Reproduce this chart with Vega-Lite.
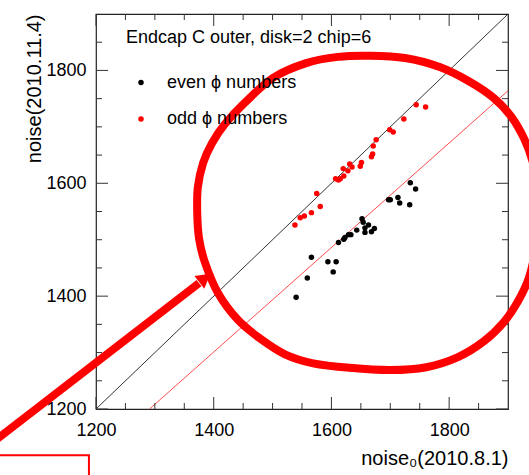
{
  "$schema": "https://vega.github.io/schema/vega-lite/v6.json",
  "width": 412,
  "height": 395,
  "autosize": "none",
  "padding": {"left": 96, "top": 14, "right": 21, "bottom": 66},
  "background": "white",
  "config": {
    "view": {"stroke": "#222", "strokeWidth": 1.2},
    "font": "Liberation Sans",
    "axis": {
      "grid": false,
      "domain": false,
      "ticks": false,
      "labelFont": "Liberation Sans",
      "labelFontSize": 18,
      "labelColor": "black",
      "titleFont": "Liberation Sans",
      "titleFontSize": 20,
      "titleFontWeight": "normal",
      "titleColor": "black",
      "labelFlush": false,
      "labelOverlap": false
    }
  },
  "datasets": {
    "diag": [{"x": 1200, "y": 1200}, {"x": 1900, "y": 1900}],
    "fit": [{"x": 1291, "y": 1200}, {"x": 1900, "y": 1764}],
    "majors": [{"v": 1200}, {"v": 1400}, {"v": 1600}, {"v": 1800}],
    "minors": [
      {"v": 1250}, {"v": 1300}, {"v": 1350}, {"v": 1450}, {"v": 1500}, {"v": 1550},
      {"v": 1650}, {"v": 1700}, {"v": 1750}, {"v": 1850}
    ],
    "points": [
      {"x": 1734, "y": 1601, "phi": "even ϕ numbers"},
      {"x": 1743, "y": 1590, "phi": "even ϕ numbers"},
      {"x": 1697, "y": 1571, "phi": "even ϕ numbers"},
      {"x": 1700, "y": 1571, "phi": "even ϕ numbers"},
      {"x": 1713, "y": 1575, "phi": "even ϕ numbers"},
      {"x": 1716, "y": 1565, "phi": "even ϕ numbers"},
      {"x": 1733, "y": 1562, "phi": "even ϕ numbers"},
      {"x": 1652, "y": 1537, "phi": "even ϕ numbers"},
      {"x": 1654, "y": 1531, "phi": "even ϕ numbers"},
      {"x": 1663, "y": 1526, "phi": "even ϕ numbers"},
      {"x": 1657, "y": 1521, "phi": "even ϕ numbers"},
      {"x": 1673, "y": 1520, "phi": "even ϕ numbers"},
      {"x": 1668, "y": 1514, "phi": "even ϕ numbers"},
      {"x": 1657, "y": 1513, "phi": "even ϕ numbers"},
      {"x": 1643, "y": 1517, "phi": "even ϕ numbers"},
      {"x": 1633, "y": 1509, "phi": "even ϕ numbers"},
      {"x": 1629, "y": 1509, "phi": "even ϕ numbers"},
      {"x": 1623, "y": 1504, "phi": "even ϕ numbers"},
      {"x": 1621, "y": 1501, "phi": "even ϕ numbers"},
      {"x": 1612, "y": 1495, "phi": "even ϕ numbers"},
      {"x": 1566, "y": 1469, "phi": "even ϕ numbers"},
      {"x": 1594, "y": 1461, "phi": "even ϕ numbers"},
      {"x": 1608, "y": 1461, "phi": "even ϕ numbers"},
      {"x": 1603, "y": 1443, "phi": "even ϕ numbers"},
      {"x": 1559, "y": 1432, "phi": "even ϕ numbers"},
      {"x": 1540, "y": 1398, "phi": "even ϕ numbers"},
      {"x": 1744, "y": 1739, "phi": "odd ϕ numbers"},
      {"x": 1760, "y": 1735, "phi": "odd ϕ numbers"},
      {"x": 1723, "y": 1714, "phi": "odd ϕ numbers"},
      {"x": 1699, "y": 1695, "phi": "odd ϕ numbers"},
      {"x": 1705, "y": 1691, "phi": "odd ϕ numbers"},
      {"x": 1676, "y": 1677, "phi": "odd ϕ numbers"},
      {"x": 1671, "y": 1666, "phi": "odd ϕ numbers"},
      {"x": 1670, "y": 1652, "phi": "odd ϕ numbers"},
      {"x": 1668, "y": 1647, "phi": "odd ϕ numbers"},
      {"x": 1651, "y": 1637, "phi": "odd ϕ numbers"},
      {"x": 1649, "y": 1630, "phi": "odd ϕ numbers"},
      {"x": 1631, "y": 1634, "phi": "odd ϕ numbers"},
      {"x": 1635, "y": 1629, "phi": "odd ϕ numbers"},
      {"x": 1628, "y": 1622, "phi": "odd ϕ numbers"},
      {"x": 1620, "y": 1626, "phi": "odd ϕ numbers"},
      {"x": 1621, "y": 1613, "phi": "odd ϕ numbers"},
      {"x": 1615, "y": 1608, "phi": "odd ϕ numbers"},
      {"x": 1612, "y": 1606, "phi": "odd ϕ numbers"},
      {"x": 1607, "y": 1608, "phi": "odd ϕ numbers"},
      {"x": 1575, "y": 1582, "phi": "odd ϕ numbers"},
      {"x": 1581, "y": 1559, "phi": "odd ϕ numbers"},
      {"x": 1566, "y": 1548, "phi": "odd ϕ numbers"},
      {"x": 1554, "y": 1542, "phi": "odd ϕ numbers"},
      {"x": 1547, "y": 1539, "phi": "odd ϕ numbers"},
      {"x": 1538, "y": 1526, "phi": "odd ϕ numbers"}
    ],
    "ellipse": [
      {"i": 1, "x": 1665, "y": 1826},
      {"i": 2, "x": 1725, "y": 1822},
      {"i": 3, "x": 1784, "y": 1806},
      {"i": 4, "x": 1835, "y": 1780},
      {"i": 5, "x": 1876, "y": 1751},
      {"i": 6, "x": 1905, "y": 1719},
      {"i": 7, "x": 1927, "y": 1680},
      {"i": 8, "x": 1942, "y": 1638},
      {"i": 9, "x": 1951, "y": 1592},
      {"i": 10, "x": 1953, "y": 1544},
      {"i": 11, "x": 1948, "y": 1491},
      {"i": 12, "x": 1936, "y": 1434},
      {"i": 13, "x": 1917, "y": 1391},
      {"i": 14, "x": 1893, "y": 1354},
      {"i": 15, "x": 1859, "y": 1320},
      {"i": 16, "x": 1815, "y": 1292},
      {"i": 17, "x": 1761, "y": 1274},
      {"i": 18, "x": 1700, "y": 1269},
      {"i": 19, "x": 1631, "y": 1273},
      {"i": 20, "x": 1569, "y": 1281},
      {"i": 21, "x": 1521, "y": 1297},
      {"i": 22, "x": 1480, "y": 1324},
      {"i": 23, "x": 1441, "y": 1358},
      {"i": 24, "x": 1407, "y": 1406},
      {"i": 25, "x": 1385, "y": 1460},
      {"i": 26, "x": 1375, "y": 1503},
      {"i": 27, "x": 1372, "y": 1547},
      {"i": 28, "x": 1373, "y": 1593},
      {"i": 29, "x": 1382, "y": 1636},
      {"i": 30, "x": 1397, "y": 1671},
      {"i": 31, "x": 1419, "y": 1705},
      {"i": 32, "x": 1452, "y": 1742},
      {"i": 33, "x": 1501, "y": 1787},
      {"i": 34, "x": 1557, "y": 1813},
      {"i": 35, "x": 1611, "y": 1824}
    ],
    "shaft": [{"x": 996, "y": 1118}, {"x": 1375, "y": 1423}],
    "head": [{"x": 1385, "y": 1432}],
    "box": [{"x": 1019, "x2": 1188, "y": 1118, "y2": 1040}]
  },
  "layer": [
    {
      "data": {"name": "diag"},
      "mark": {"type": "line", "color": "black", "strokeWidth": 0.8},
      "encoding": {
        "x": {
          "field": "x", "type": "quantitative",
          "scale": {"domain": [1200, 1900], "nice": false, "zero": false},
          "axis": {
            "orient": "bottom",
            "values": [1200, 1400, 1600, 1800],
            "format": "d",
            "labelPadding": 12,
            "title": "noise₀(2010.8.1)",
            "titleX": 412,
            "titleY": 55,
            "titleAlign": "right",
            "titleAnchor": "end",
            "titleBaseline": "alphabetic"
          }
        },
        "y": {
          "field": "y", "type": "quantitative",
          "scale": {"domain": [1200, 1900], "nice": false, "zero": false},
          "axis": {
            "orient": "left",
            "values": [1200, 1400, 1600, 1800],
            "format": "d",
            "labelPadding": 10,
            "title": "noise(2010.11.4)",
            "titleAngle": -90,
            "titleX": -56,
            "titleY": 0,
            "titleAlign": "right",
            "titleAnchor": "end",
            "titleBaseline": "alphabetic"
          }
        }
      }
    },
    {
      "data": {"name": "fit"},
      "mark": {"type": "line", "color": "#ff2020", "strokeWidth": 0.8},
      "encoding": {
        "x": {"field": "x", "type": "quantitative"},
        "y": {"field": "y", "type": "quantitative"}
      }
    },
    {
      "data": {"name": "majors"},
      "mark": {"type": "tick", "orient": "vertical", "color": "#333", "thickness": 1, "size": 12, "yOffset": -6, "opacity": 1},
      "encoding": {
        "x": {"field": "v", "type": "quantitative"},
        "y": {"datum": 1200, "type": "quantitative"}
      }
    },
    {
      "data": {"name": "minors"},
      "mark": {"type": "tick", "orient": "vertical", "color": "#333", "thickness": 1, "size": 6, "yOffset": -3, "opacity": 1},
      "encoding": {
        "x": {"field": "v", "type": "quantitative"},
        "y": {"datum": 1200, "type": "quantitative"}
      }
    },
    {
      "data": {"name": "majors"},
      "mark": {"type": "tick", "orient": "vertical", "color": "#333", "thickness": 1, "size": 12, "yOffset": 6, "opacity": 1},
      "encoding": {
        "x": {"field": "v", "type": "quantitative"},
        "y": {"datum": 1900, "type": "quantitative"}
      }
    },
    {
      "data": {"name": "minors"},
      "mark": {"type": "tick", "orient": "vertical", "color": "#333", "thickness": 1, "size": 6, "yOffset": 3, "opacity": 1},
      "encoding": {
        "x": {"field": "v", "type": "quantitative"},
        "y": {"datum": 1900, "type": "quantitative"}
      }
    },
    {
      "data": {"name": "majors"},
      "mark": {"type": "tick", "orient": "horizontal", "color": "#333", "thickness": 1, "size": 12, "xOffset": 6, "opacity": 1},
      "encoding": {
        "y": {"field": "v", "type": "quantitative"},
        "x": {"datum": 1200, "type": "quantitative"}
      }
    },
    {
      "data": {"name": "minors"},
      "mark": {"type": "tick", "orient": "horizontal", "color": "#333", "thickness": 1, "size": 6, "xOffset": 3, "opacity": 1},
      "encoding": {
        "y": {"field": "v", "type": "quantitative"},
        "x": {"datum": 1200, "type": "quantitative"}
      }
    },
    {
      "data": {"name": "majors"},
      "mark": {"type": "tick", "orient": "horizontal", "color": "#333", "thickness": 1, "size": 12, "xOffset": -6, "opacity": 1},
      "encoding": {
        "y": {"field": "v", "type": "quantitative"},
        "x": {"datum": 1900, "type": "quantitative"}
      }
    },
    {
      "data": {"name": "minors"},
      "mark": {"type": "tick", "orient": "horizontal", "color": "#333", "thickness": 1, "size": 6, "xOffset": -3, "opacity": 1},
      "encoding": {
        "y": {"field": "v", "type": "quantitative"},
        "x": {"datum": 1900, "type": "quantitative"}
      }
    },
    {
      "data": {"name": "points"},
      "mark": {"type": "point", "shape": "circle", "filled": true, "size": 30, "opacity": 1},
      "encoding": {
        "x": {"field": "x", "type": "quantitative"},
        "y": {"field": "y", "type": "quantitative"},
        "color": {
          "field": "phi", "type": "nominal",
          "scale": {"domain": ["even ϕ numbers", "odd ϕ numbers"], "range": ["black", "#ff0000"]},
          "legend": {
            "orient": "none",
            "legendX": 30,
            "legendY": 14.5,
            "title": "Endcap C outer, disk=2 chip=6",
            "titleFont": "Liberation Sans",
            "titleFontSize": 18,
            "titleFontWeight": "normal",
            "titleColor": "black",
            "titleLimit": 400,
            "titlePadding": 27,
            "labelFont": "Liberation Sans",
            "labelFontSize": 18,
            "labelColor": "black",
            "labelLimit": 300,
            "labelOffset": 17,
            "symbolOffset": 6,
            "symbolType": "circle",
            "symbolSize": 30,
            "symbolStrokeWidth": 0,
            "rowPadding": 18.5,
            "padding": 0
          }
        }
      }
    },
    {
      "data": {"name": "ellipse"},
      "mark": {"type": "line", "color": "#ff0000", "strokeWidth": 8, "interpolate": "cardinal-closed", "clip": false},
      "encoding": {
        "x": {"field": "x", "type": "quantitative"},
        "y": {"field": "y", "type": "quantitative"},
        "order": {"field": "i", "type": "quantitative"}
      }
    },
    {
      "data": {"name": "shaft"},
      "mark": {"type": "line", "color": "#ff0000", "strokeWidth": 8, "strokeCap": "butt", "clip": false},
      "encoding": {
        "x": {"field": "x", "type": "quantitative"},
        "y": {"field": "y", "type": "quantitative"}
      }
    },
    {
      "data": {"name": "head"},
      "mark": {"type": "point", "shape": "triangle-right", "filled": true, "color": "#ff0000", "size": 260, "angle": -37.7, "opacity": 1, "clip": false},
      "encoding": {
        "x": {"field": "x", "type": "quantitative"},
        "y": {"field": "y", "type": "quantitative"}
      }
    },
    {
      "data": {"name": "box"},
      "mark": {"type": "rect", "fillOpacity": 0, "stroke": "#ff0000", "strokeWidth": 2, "clip": false},
      "encoding": {
        "x": {"field": "x", "type": "quantitative"},
        "x2": {"field": "x2"},
        "y": {"field": "y", "type": "quantitative"},
        "y2": {"field": "y2"}
      }
    }
  ]
}
